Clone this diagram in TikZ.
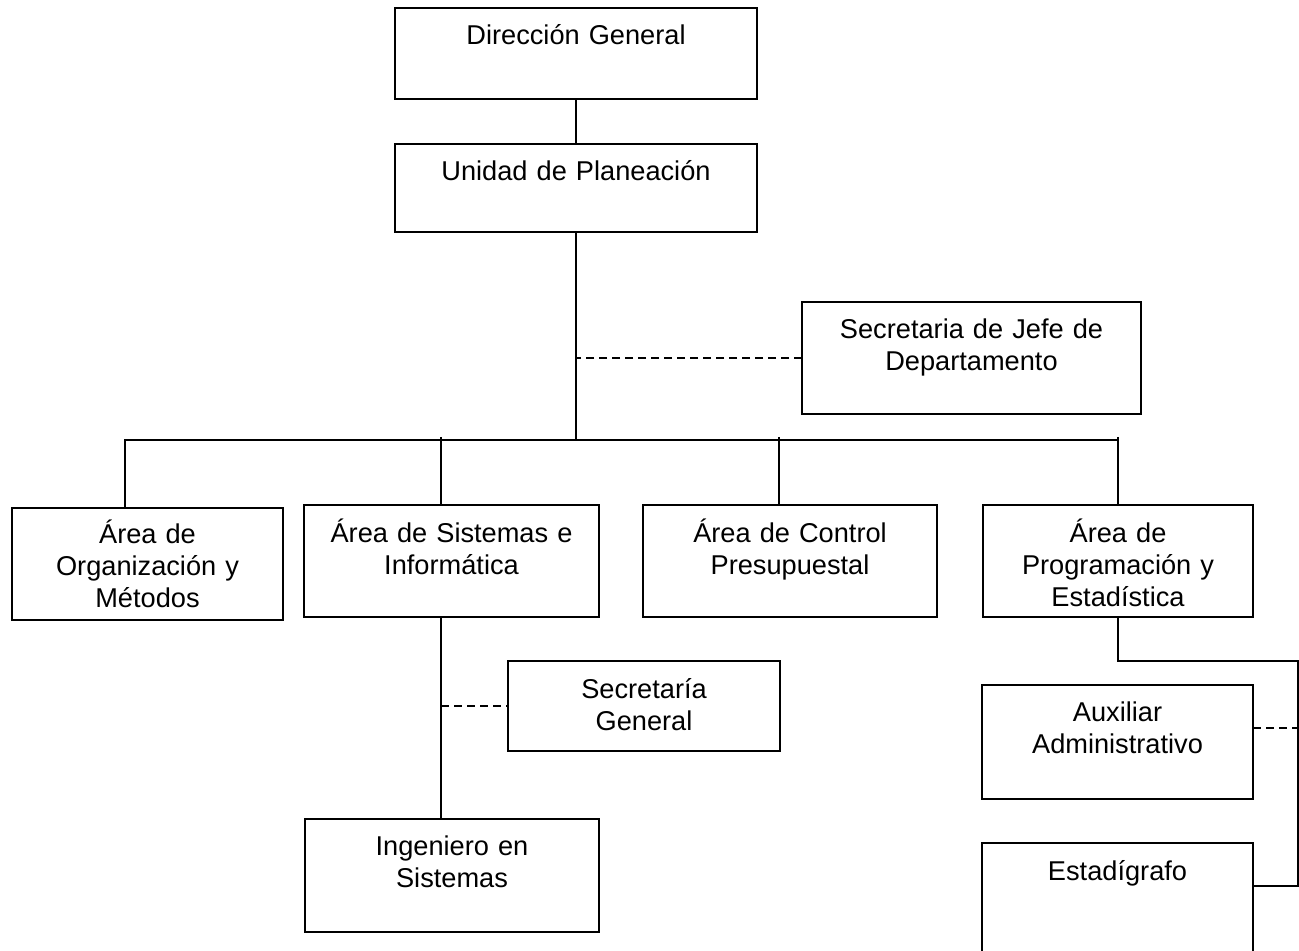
\documentclass[tikz,border=0pt]{standalone}
\usepackage{fontspec}
\setmainfont{Liberation Sans}
\usetikzlibrary{calc}
\begin{document}
\begin{tikzpicture}[x=0.5pt,y=-0.5pt,
  box/.style={draw, line width=1pt, rectangle, inner sep=0pt, outer sep=0pt},
  lbl/.style={anchor=base, text width=150pt, align=center, inner sep=0pt,
    font=\fontsize{13.6}{16}\selectfont},
  conn/.style={line width=1pt},
  dsh/.style={line width=1pt, dash pattern=on 4pt off 2.5pt}]
\useasboundingbox (0,0) rectangle (1299,951);
\clip (0,0) rectangle (1299,951);
\fill[white] (0,0) rectangle (1299,951);
% boxes
\node[box, minimum width=181pt, minimum height=45.5pt] (dg) at (576,53.5) {};
\node[box, minimum width=181pt, minimum height=44pt] (up) at (576,188) {};
\node[box, minimum width=169.5pt, minimum height=56pt] (sj) at (971.5,358) {};
\node[box, minimum width=135.5pt, minimum height=56pt] (org) at (147.5,564) {};
\node[box, minimum width=147.5pt, minimum height=56pt] (sis) at (451.5,561) {};
\node[box, minimum width=147pt, minimum height=56pt] (ctl) at (790,561) {};
\node[box, minimum width=135pt, minimum height=56pt] (prg) at (1118,561) {};
\node[box, minimum width=136pt, minimum height=45pt] (sg) at (644,706) {};
\node[box, minimum width=147pt, minimum height=56.5pt] (ing) at (452,875.5) {};
\node[box, minimum width=135.5pt, minimum height=57pt] (aux) at (1117.5,742) {};
\node[box, minimum width=135.5pt, minimum height=73.5pt] (est) at (1117.5,916.5) {};
% labels
\node[lbl] (tdg) at ($(dg.north)+(0,37)$) {Dirección General};
\node[lbl] (tup) at ($(up.north)+(0,37)$) {Unidad de Planeación};
\node[lbl] (tsj) at ($(sj.north)+(0,37)$) {Secretaria de Jefe de\\Departamento};
\node[lbl] (torg) at ($(org.north)+(0,35)$) {Área de\\Organización y\\Métodos};
\node[lbl] (tsis) at ($(sis.north)+(0,37)$) {Área de Sistemas e\\Informática};
\node[lbl] (tctl) at ($(ctl.north)+(0,37)$) {Área de Control\\Presupuestal};
\node[lbl] (tprg) at ($(prg.north)+(0,37)$) {Área de\\Programación y\\Estadística};
\node[lbl] (tsg) at ($(sg.north)+(0,37)$) {Secretaría\\General};
\node[lbl] (ting) at ($(ing.north)+(0,36)$) {Ingeniero en\\Sistemas};
\node[lbl] (taux) at ($(aux.north)+(0,36)$) {Auxiliar\\Administrativo};
\node[lbl] (test) at ($(est.north)+(0,37)$) {Estadígrafo};
% coordinates
\coordinate (bus) at (576,440);
\coordinate (bL) at (125,440);
\coordinate (bR) at (1118,440);
\coordinate (d2) at (441,437);
\coordinate (d3) at (779,437);
\coordinate (d4) at (1118,437);
\coordinate (sisx) at (441,706);
\coordinate (pr1) at (1118,661);
\coordinate (pr2) at (1298,661);
\coordinate (pr3) at (1298,886);
\coordinate (ax) at (1298,728);
% connectors
\draw[conn] (dg.south) -- (up.north);
\draw[conn] (up.south) -- (bus);
\draw[dsh] (sj.west) -- (sj.west -| bus);
\draw[conn] (bL |- org.north) -- (bL) -- (bR);
\draw[conn] (d2) -- (d2 |- sis.north);
\draw[conn] (d3) -- (d3 |- ctl.north);
\draw[conn] (d4) -- (prg.north);
\draw[conn] (sisx |- sis.south) -- (sisx |- ing.north);
\draw[dsh] (sisx) -- (sg.west);
\draw[conn] (prg.south) -- (pr1) -- (pr2) -- (pr3) -- (pr3 -| est.east);
\draw[dsh] (ax -| aux.east) -- (ax);
\end{tikzpicture}
\end{document}
